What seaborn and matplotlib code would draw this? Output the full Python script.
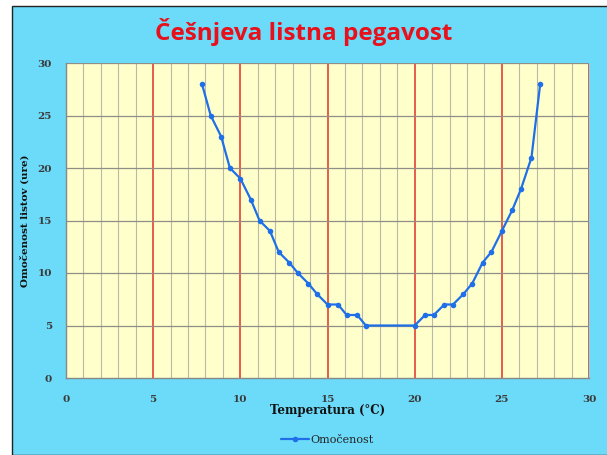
import pandas as pd
import matplotlib.pyplot as plt
import matplotlib.patches as patches
import seaborn as sns

# Data
temperatura = [7.8, 8.3, 8.9, 9.4, 10.0, 10.6, 11.1, 11.7, 12.2, 12.8, 13.3, 13.9,
               14.4, 15.0, 15.6, 16.1, 16.7, 17.2, 20.0, 20.6, 21.1, 21.7, 22.2,
               22.8, 23.3, 23.9, 24.4, 25.0, 25.6, 26.1, 26.7, 27.2]
omocenost = [28, 25, 23, 20, 19, 17, 15, 14, 12, 11, 10, 9,
             8, 7, 7, 6, 6, 5, 5, 6, 6, 7, 7,
             8, 9, 11, 12, 14, 16, 18, 21, 28]
series_name = "Omočenost"
title = "Češnjeva listna pegavost"
x_label = "Temperatura (°C)"
y_label = "Omočenost listov (ure)"

df = pd.DataFrame({"Temperatura": temperatura, "Omocenost": omocenost})

sns.set_style("white")
plt.rcParams['font.family'] = ['DejaVu Serif']

fig = plt.figure(figsize=(6.07, 4.55), dpi=100)
fig.patch.set_facecolor("white")

# cyan chart area with thin black frame (top / left)
bg = patches.Rectangle((12 / 607, 0), 1, 1 - 6 / 455, transform=fig.transFigure,
                       facecolor="#6cdbf9", edgecolor="#222222", linewidth=1.0, zorder=-10)
fig.patches.append(bg)

ax = fig.add_axes([66 / 607, 1 - 378 / 455, (589 - 66) / 607, (378 - 63) / 455])
ax.set_facecolor("#ffffcc")

# grid lines
for v in range(0, 31):
    if v % 5 == 0 and v > 0:
        ax.axvline(v, color="#e0302a", linewidth=1.1, zorder=1)
    else:
        ax.axvline(v, color="#a8a8a0", linewidth=0.8, alpha=0.8, zorder=1)
for h in range(5, 31, 5):
    ax.axhline(h, color="#8f8f88", linewidth=0.9, zorder=1)

sns.lineplot(data=df, x="Temperatura", y="Omocenost", ax=ax, sort=False,
             color="#1f6fe8", linewidth=1.6, marker="o", markersize=4,
             markeredgewidth=0, label=series_name, zorder=3)

ax.set_xlim(0, 30)
ax.set_ylim(0, 30)
ax.set_xticks(range(0, 31, 5))
ax.set_xticks(range(0, 31), minor=True)
ax.set_yticks(range(0, 31, 5))
ax.tick_params(axis="x", which="major", labelsize=7.5, length=4, color="#888888",
               direction="out", pad=8)
ax.tick_params(axis="x", which="minor", length=4, color="#888888", direction="out")
ax.tick_params(axis="y", which="major", labelsize=7.5, length=0, pad=10)
for lbl in ax.get_xticklabels() + ax.get_yticklabels():
    lbl.set_fontweight("bold")
    lbl.set_color("#3a3a3a")

for side in ["left", "bottom"]:
    ax.spines[side].set_color("#888888")
    ax.spines[side].set_linewidth(1.0)
for side in ["top", "right"]:
    ax.spines[side].set_visible(False)

ax.set_xlabel(x_label, fontsize=8.5, fontweight="bold", color="#111111", labelpad=0)
ax.set_ylabel(y_label, fontsize=7.5, fontweight="bold", color="#111111", labelpad=6)

leg = ax.legend(loc="upper center", bbox_to_anchor=(0.5, -0.15), frameon=False,
                fontsize=8, handlelength=2.5, handletextpad=0.1)
for t in leg.get_texts():
    t.set_color("#222222")

fig.text(0.5, 1 - 32 / 455, title, ha="center", va="center", fontsize=17.5,
         fontweight="bold", color="#e8101a", family=["Open Sans", "DejaVu Sans"])

fig.savefig("out.png", dpi=100)
